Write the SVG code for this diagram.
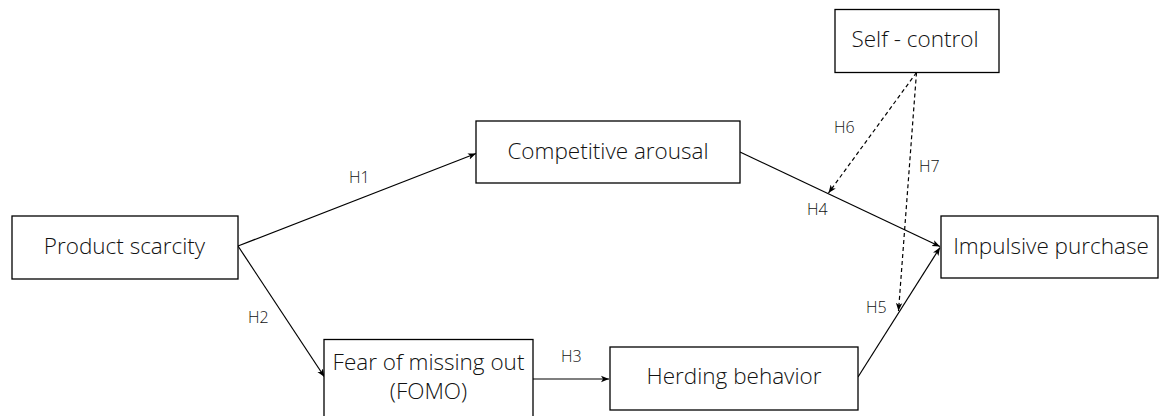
<svg xmlns="http://www.w3.org/2000/svg" width="1159" height="416" viewBox="0 0 1159 416">
<style>
.box{fill:#fff;stroke:#000;stroke-width:1.3}
.t{font-family:"Open Sans","Noto Sans",sans-serif;font-weight:300;font-size:22.5px;fill:#111;text-anchor:middle}
.l{font-family:"Open Sans","Noto Sans",sans-serif;font-weight:300;font-size:16px;fill:#111}
.c{fill:none;stroke:#000;stroke-width:1.2}
.d{fill:none;stroke:#000;stroke-width:1.2;stroke-dasharray:4,3}
</style>
<defs>
<marker id="ah" markerUnits="userSpaceOnUse" markerWidth="9" markerHeight="8" refX="8" refY="4" orient="auto">
<path d="M0,0.8 L8,4 L0,7.2 L2,4 Z" fill="#000"/>
</marker>
</defs>
<rect width="1159" height="416" fill="#fff"/>
<g id="connectors">
<line class="c" x1="238" y1="246" x2="476" y2="153.5" marker-end="url(#ah)"/>
<line class="c" x1="238" y1="246" x2="324.5" y2="377" marker-end="url(#ah)"/>
<line class="c" x1="533" y1="379" x2="609" y2="379" marker-end="url(#ah)"/>
<line class="c" x1="740" y1="152" x2="940" y2="246.5" marker-end="url(#ah)"/>
<line class="c" x1="858" y1="377" x2="940" y2="247.5" marker-end="url(#ah)"/>
<line class="d" x1="916.5" y1="72.5" x2="828.5" y2="193" marker-end="url(#ah)"/>
<line class="d" x1="916.5" y1="72.5" x2="898.5" y2="311" marker-end="url(#ah)"/>
<text class="l" x="349" y="183">H1</text>
<text class="l" x="248" y="323">H2</text>
<text class="l" x="561" y="362">H3</text>
<text class="l" x="807" y="215">H4</text>
<text class="l" x="866" y="313">H5</text>
<text class="l" x="834" y="133">H6</text>
<text class="l" x="919" y="172">H7</text>
</g>
<g id="product-scarcity">
<rect class="box" x="12" y="216" width="226" height="63"/>
<text class="t" x="124.5" y="253.5">Product scarcity</text>
</g>
<g id="competitive-arousal">
<rect class="box" x="476" y="121" width="264" height="62"/>
<text class="t" x="608" y="158.5">Competitive arousal</text>
</g>
<g id="fomo">
<rect class="box" x="324" y="339.5" width="209" height="90"/>
<text class="t" x="428.5" y="369.5">Fear of missing out</text>
<text class="t" x="428.5" y="398.5">(FOMO)</text>
</g>
<g id="herding-behavior">
<rect class="box" x="610" y="347" width="248" height="63"/>
<text class="t" x="734" y="384">Herding behavior</text>
</g>
<g id="impulsive-purchase">
<rect class="box" x="941" y="216" width="217" height="62"/>
<text class="t" x="1051" y="253.5">Impulsive purchase</text>
</g>
<g id="self-control">
<rect class="box" x="835" y="9.5" width="164" height="63"/>
<text class="t" x="915" y="47">Self - control</text>
</g>
</svg>
